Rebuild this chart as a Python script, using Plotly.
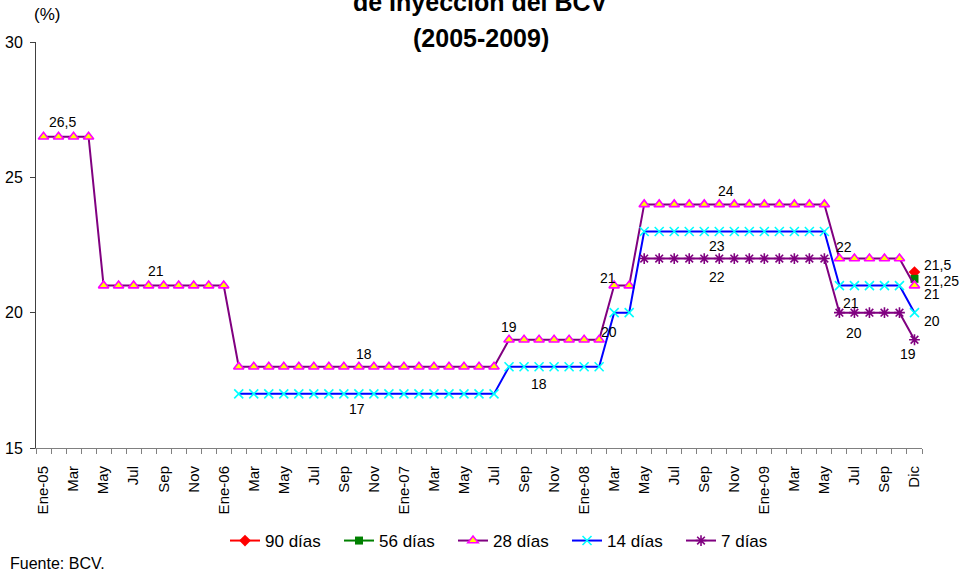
import plotly.graph_objects as go

# ---------------- data ----------------
# 59 monthly categories: Ene-05 ... Oct-09, Dic-09 (Nov-09 not in the series)
tick_labels = ["Ene-05", "Mar", "May", "Jul", "Sep", "Nov",
               "Ene-06", "Mar", "May", "Jul", "Sep", "Nov",
               "Ene-07", "Mar", "May", "Jul", "Sep", "Nov",
               "Ene-08", "Mar", "May", "Jul", "Sep", "Nov",
               "Ene-09", "Mar", "May", "Jul", "Sep", "Dic"]

N = 59
x = list(range(N))

d90 = [None] * 58 + [21.5]
d56 = [None] * 58 + [21.25]
d28 = ([26.5] * 4 + [21] * 9 + [18] * 18 + [19] * 7 + [21] * 2
       + [24] * 13 + [22] * 5 + [21])
d14 = ([None] * 13 + [17] * 18 + [18] * 7 + [20] * 2
       + [23] * 13 + [21] * 5 + [20])
d7 = [None] * 40 + [22] * 13 + [20] * 5 + [19]

series_names = ["90 días", "56 días", "28 días", "14 días", "7 días"]
series_values = [d90, d56, d28, d14, d7]

# data labels: (series index, point index, text, dx px, dy px, anchor)
labels = [
    (2, 1, "26,5", 4, 15, "center"),
    (2, 7, "21", 7, 15, "center"),
    (2, 21, "18", 5, 13, "center"),
    (3, 21, "17", -2, -15, "center"),
    (2, 31, "19", 0, 13, "center"),
    (3, 33, "18", 0, -17, "center"),
    (2, 38, "21", -6, 8, "center"),
    (3, 38, "20", -5, -19, "center"),
    (2, 45, "24", 7, 13, "center"),
    (3, 45, "23", -2, -15, "center"),
    (4, 45, "22", -2, -18, "center"),
    (2, 53, "22", 5, 12, "center"),
    (3, 54, "21", -3, -17, "center"),
    (4, 54, "20", 0, -20, "center"),
    (0, 58, "21,5", 8, 7, "left"),
    (1, 58, "21,25", 8, -2, "left"),
    (2, 58, "21", 8, -8, "left"),
    (3, 58, "20", 8, -8, "left"),
    (4, 58, "19", -6, -14, "center"),
]

# ---------------- styles ----------------
FONT = "Liberation Sans, Arial, sans-serif"
styles = [
    dict(line=dict(color="#FF0000", width=2),
         marker=dict(symbol="diamond", size=9, color="#FF0000")),
    dict(line=dict(color="#008000", width=2),
         marker=dict(symbol="square", size=8, color="#008000")),
    dict(line=dict(color="#800080", width=2),
         marker=dict(symbol="triangle-up", size=9, color="#FFFF00",
                     line=dict(color="#FF00FF", width=1.6))),
    dict(line=dict(color="#0000FF", width=2),
         marker=dict(symbol="x-thin-open", size=9, color="#00FFFF",
                     line=dict(color="#00FFFF", width=1.6))),
    dict(line=dict(color="#800080", width=2),
         marker=dict(symbol="asterisk-open", size=9, color="#800080",
                     line=dict(color="#800080", width=1.6))),
]

fig = go.Figure()
for name, vals, st in zip(series_names, series_values, styles):
    fig.add_trace(go.Scatter(x=x, y=vals, name=name, mode="lines+markers",
                             connectgaps=False, **st))

annotations = []
for si, pi, txt, dx, dy, anc in labels:
    annotations.append(dict(
        x=x[pi], y=series_values[si][pi], xref="x", yref="y", text=txt,
        showarrow=False, xanchor=anc, yanchor="middle", xshift=dx, yshift=dy,
        font=dict(family=FONT, size=14, color="#000000")))

PLOT_LEFT, PLOT_W = 36, 886
PLOT_TOP, PLOT_H = 42, 406


def px_(pix):
    return (pix - PLOT_LEFT) / PLOT_W


def py(pix):
    return 1 + (PLOT_TOP - pix) / PLOT_H


TITLE_FONT = "Liberation Sans, Arial, sans-serif"
annotations.append(dict(x=px_(481), y=py(2), xref="paper", yref="paper",
                        text="<b>de Inyección del BCV</b>", showarrow=False,
                        xanchor="center", yanchor="middle",
                        font=dict(family=TITLE_FONT, size=25, color="#000")))
annotations.append(dict(x=px_(481), y=py(38), xref="paper", yref="paper",
                        text="<b>(2005-2009)</b>", showarrow=False,
                        xanchor="center", yanchor="middle",
                        font=dict(family=TITLE_FONT, size=25, color="#000")))
annotations.append(dict(x=px_(47), y=py(15), xref="paper", yref="paper",
                        text="(%)", showarrow=False, xanchor="center",
                        yanchor="middle",
                        font=dict(family=FONT, size=17, color="#000")))
annotations.append(dict(x=px_(8), y=py(563), xref="paper", yref="paper",
                        text="Fuente: BCV.", showarrow=False, xanchor="left",
                        yanchor="middle",
                        font=dict(family=FONT, size=16, color="#000")))

fig.update_layout(
    width=960, height=575,
    margin=dict(l=36, r=38, t=42, b=127),
    paper_bgcolor="white", plot_bgcolor="white",
    font=dict(family=FONT, color="#000"),
    showlegend=True,
    legend=dict(orientation="h", x=0.535, xanchor="center",
                y=py(541), yanchor="middle",
                font=dict(family=FONT, size=17),
                entrywidth=69, entrywidthmode="pixels",
                bgcolor="rgba(0,0,0,0)"),
    annotations=annotations,
)

fig.update_xaxes(
    range=[-0.5, 58.5], tickmode="array", tickvals=x[::2], ticktext=tick_labels,
    tickangle=-90, ticks="", showline=True, linecolor="#808080", linewidth=1,
    showgrid=False, zeroline=False, ticklabelstandoff=11, automargin=False,
    tickfont=dict(family=FONT, size=15, color="#000"),
    minor=dict(tickmode="array", tickvals=[i - 0.5 for i in range(N + 1)],
               ticks="outside", ticklen=5, tickcolor="#808080", showgrid=False),
)
fig.update_yaxes(
    range=[15, 30], tickmode="array", tickvals=[15, 20, 25, 30],
    ticks="outside", ticklen=5, tickcolor="#404040", showline=True,
    linecolor="#404040", linewidth=1, showgrid=False, zeroline=False,
    ticklabelstandoff=4, automargin=False,
    tickfont=dict(family=FONT, size=16, color="#000"),
)

fig.write_html("out.html",
               config={"displayModeBar": False},
               post_script="document.body.style.margin='0';"
                           "document.body.style.overflow='hidden';")
